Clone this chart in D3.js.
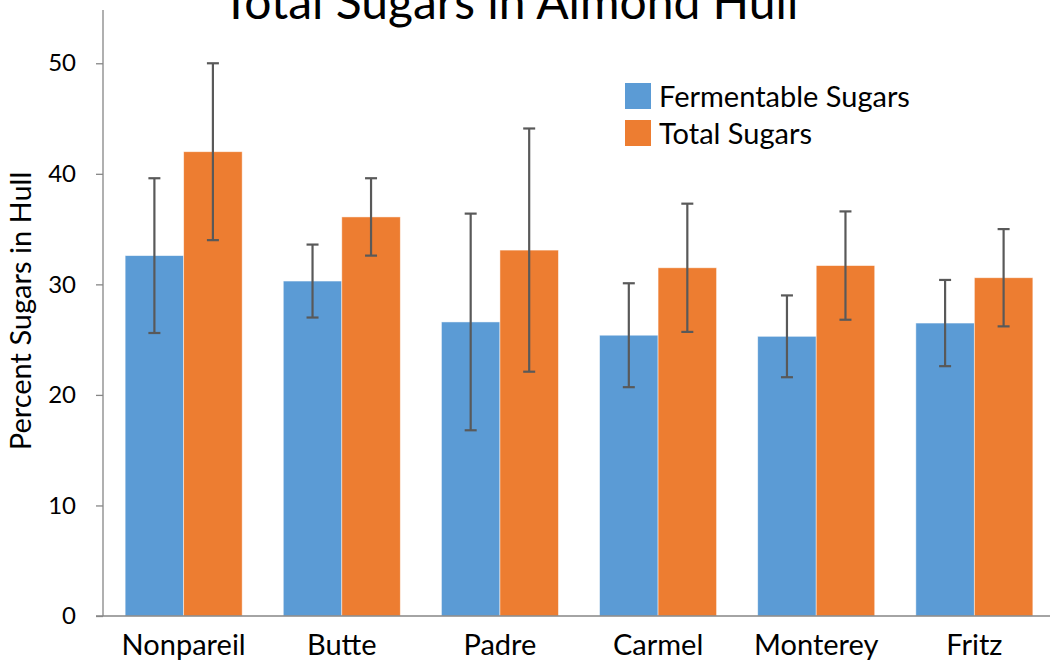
<!DOCTYPE html>
<html>
<head>
<style>
body { margin:0; background:#fff; }
svg text { font-family: Lato, "Open Sans", sans-serif; fill:#000; }
.axis path, .axis line { stroke:#868686; stroke-width:1.3px; }
.axis text { font-size:24px; }
</style>
</head>
<body>
<svg width="1050" height="664"></svg>
<script src="https://d3js.org/d3.v7.min.js"></script>
<script>

let varieties = ["Nonpareil", "Butte", "Padre", "Carmel", "Monterey", "Fritz"];
let seriesNames = ["Fermentable Sugars", "Total Sugars"];
let fermentable = [32.6, 30.3, 26.6, 25.4, 25.3, 26.5];
let fermentableErr = [7.0, 3.3, 9.8, 4.7, 3.7, 3.9];
let total = [42.0, 36.1, 33.1, 31.5, 31.7, 30.6];
let totalErr = [8.0, 3.5, 11.0, 5.8, 4.9, 4.4];
let yTicks = [0, 10, 20, 30, 40, 50];

let colors = ["#5b9bd5", "#ed7d31"];

let svg = d3.select("svg");

let x = d3.scaleBand().domain(varieties).range([103, 1055]).paddingInner(0.26).paddingOuter(0.14),
    x1 = d3.scaleBand().domain(seriesNames).range([0, x.bandwidth()]),
    y = d3.scaleLinear().domain([0, 55]).range([616, 8]);

let data = varieties.map(function(v, i) {
  return {name: v, values: [
    {key: seriesNames[0], value: fermentable[i], err: fermentableErr[i]},
    {key: seriesNames[1], value: total[i], err: totalErr[i]}
  ]};
});

// title (cut off at top, as in the original)
svg.append("text")
    .attr("x", 510).attr("y", 19)
    .attr("text-anchor", "middle")
    .style("font-size", "48px")
    .text("Total Sugars in Almond Hull");

// y axis
let yAxis = svg.append("g")
    .attr("class", "axis")
    .attr("transform", "translate(103,0)")
    .call(d3.axisLeft(y).tickValues(yTicks).tickSize(7).tickPadding(20).tickSizeOuter(0));
yAxis.select(".domain").remove();
yAxis.append("line").attr("x1", 0).attr("x2", 0).attr("y1", y(55) + 2).attr("y2", y(0));

svg.append("text")
    .attr("transform", "translate(31,311) rotate(-90)")
    .attr("text-anchor", "middle")
    .style("font-size", "29px")
    .text("Percent Sugars in Hull");

// bars
let groups = svg.selectAll(".group")
  .data(data)
  .enter().append("g")
    .attr("class", "group")
    .attr("transform", function(d) { return "translate(" + x(d.name) + ",0)"; });

groups.selectAll("rect")
  .data(function(d) { return d.values; })
  .enter().append("rect")
    .attr("x", function(d) { return x1(d.key); })
    .attr("width", x1.bandwidth())
    .attr("y", function(d) { return y(d.value); })
    .attr("height", function(d) { return y(0) - y(d.value); })
    .attr("fill", function(d, i) { return colors[i]; })
    .attr("stroke", "#fff")
    .attr("stroke-opacity", 0.6)
    .attr("stroke-width", 0.8);

// error bars
let err = groups.selectAll(".err")
  .data(function(d) { return d.values; })
  .enter().append("g")
    .attr("class", "err")
    .attr("stroke", "#595959")
    .attr("stroke-width", 2.2);

err.append("line")
    .attr("x1", function(d) { return x1(d.key) + x1.bandwidth() / 2; })
    .attr("x2", function(d) { return x1(d.key) + x1.bandwidth() / 2; })
    .attr("y1", function(d) { return y(d.value + d.err); })
    .attr("y2", function(d) { return y(d.value - d.err); });

[1, -1].forEach(function(s) {
  err.append("line")
      .attr("x1", function(d) { return x1(d.key) + x1.bandwidth() / 2 - 6; })
      .attr("x2", function(d) { return x1(d.key) + x1.bandwidth() / 2 + 6; })
      .attr("y1", function(d) { return y(d.value + s * d.err); })
      .attr("y2", function(d) { return y(d.value + s * d.err); });
});

// x axis
let xAxis = svg.append("g")
    .attr("class", "axis")
    .attr("transform", "translate(0,616)")
    .call(d3.axisBottom(x).tickSize(0).tickPadding(18));
xAxis.select(".domain").remove();
xAxis.append("line").attr("x1", 96).attr("x2", 1055).attr("y1", 0).attr("y2", 0);
xAxis.selectAll("text").style("font-size", "29px");

// legend
let legend = svg.selectAll(".legend")
  .data(seriesNames)
  .enter().append("g")
    .attr("class", "legend")
    .attr("transform", function(d, i) { return "translate(625," + (83 + i * 37) + ")"; });

legend.append("rect")
    .attr("width", 26).attr("height", 26)
    .attr("fill", function(d, i) { return colors[i]; });

legend.append("text")
    .attr("x", 34).attr("y", 24)
    .style("font-size", "29px")
    .text(function(d) { return d; });

</script>
</body>
</html>
